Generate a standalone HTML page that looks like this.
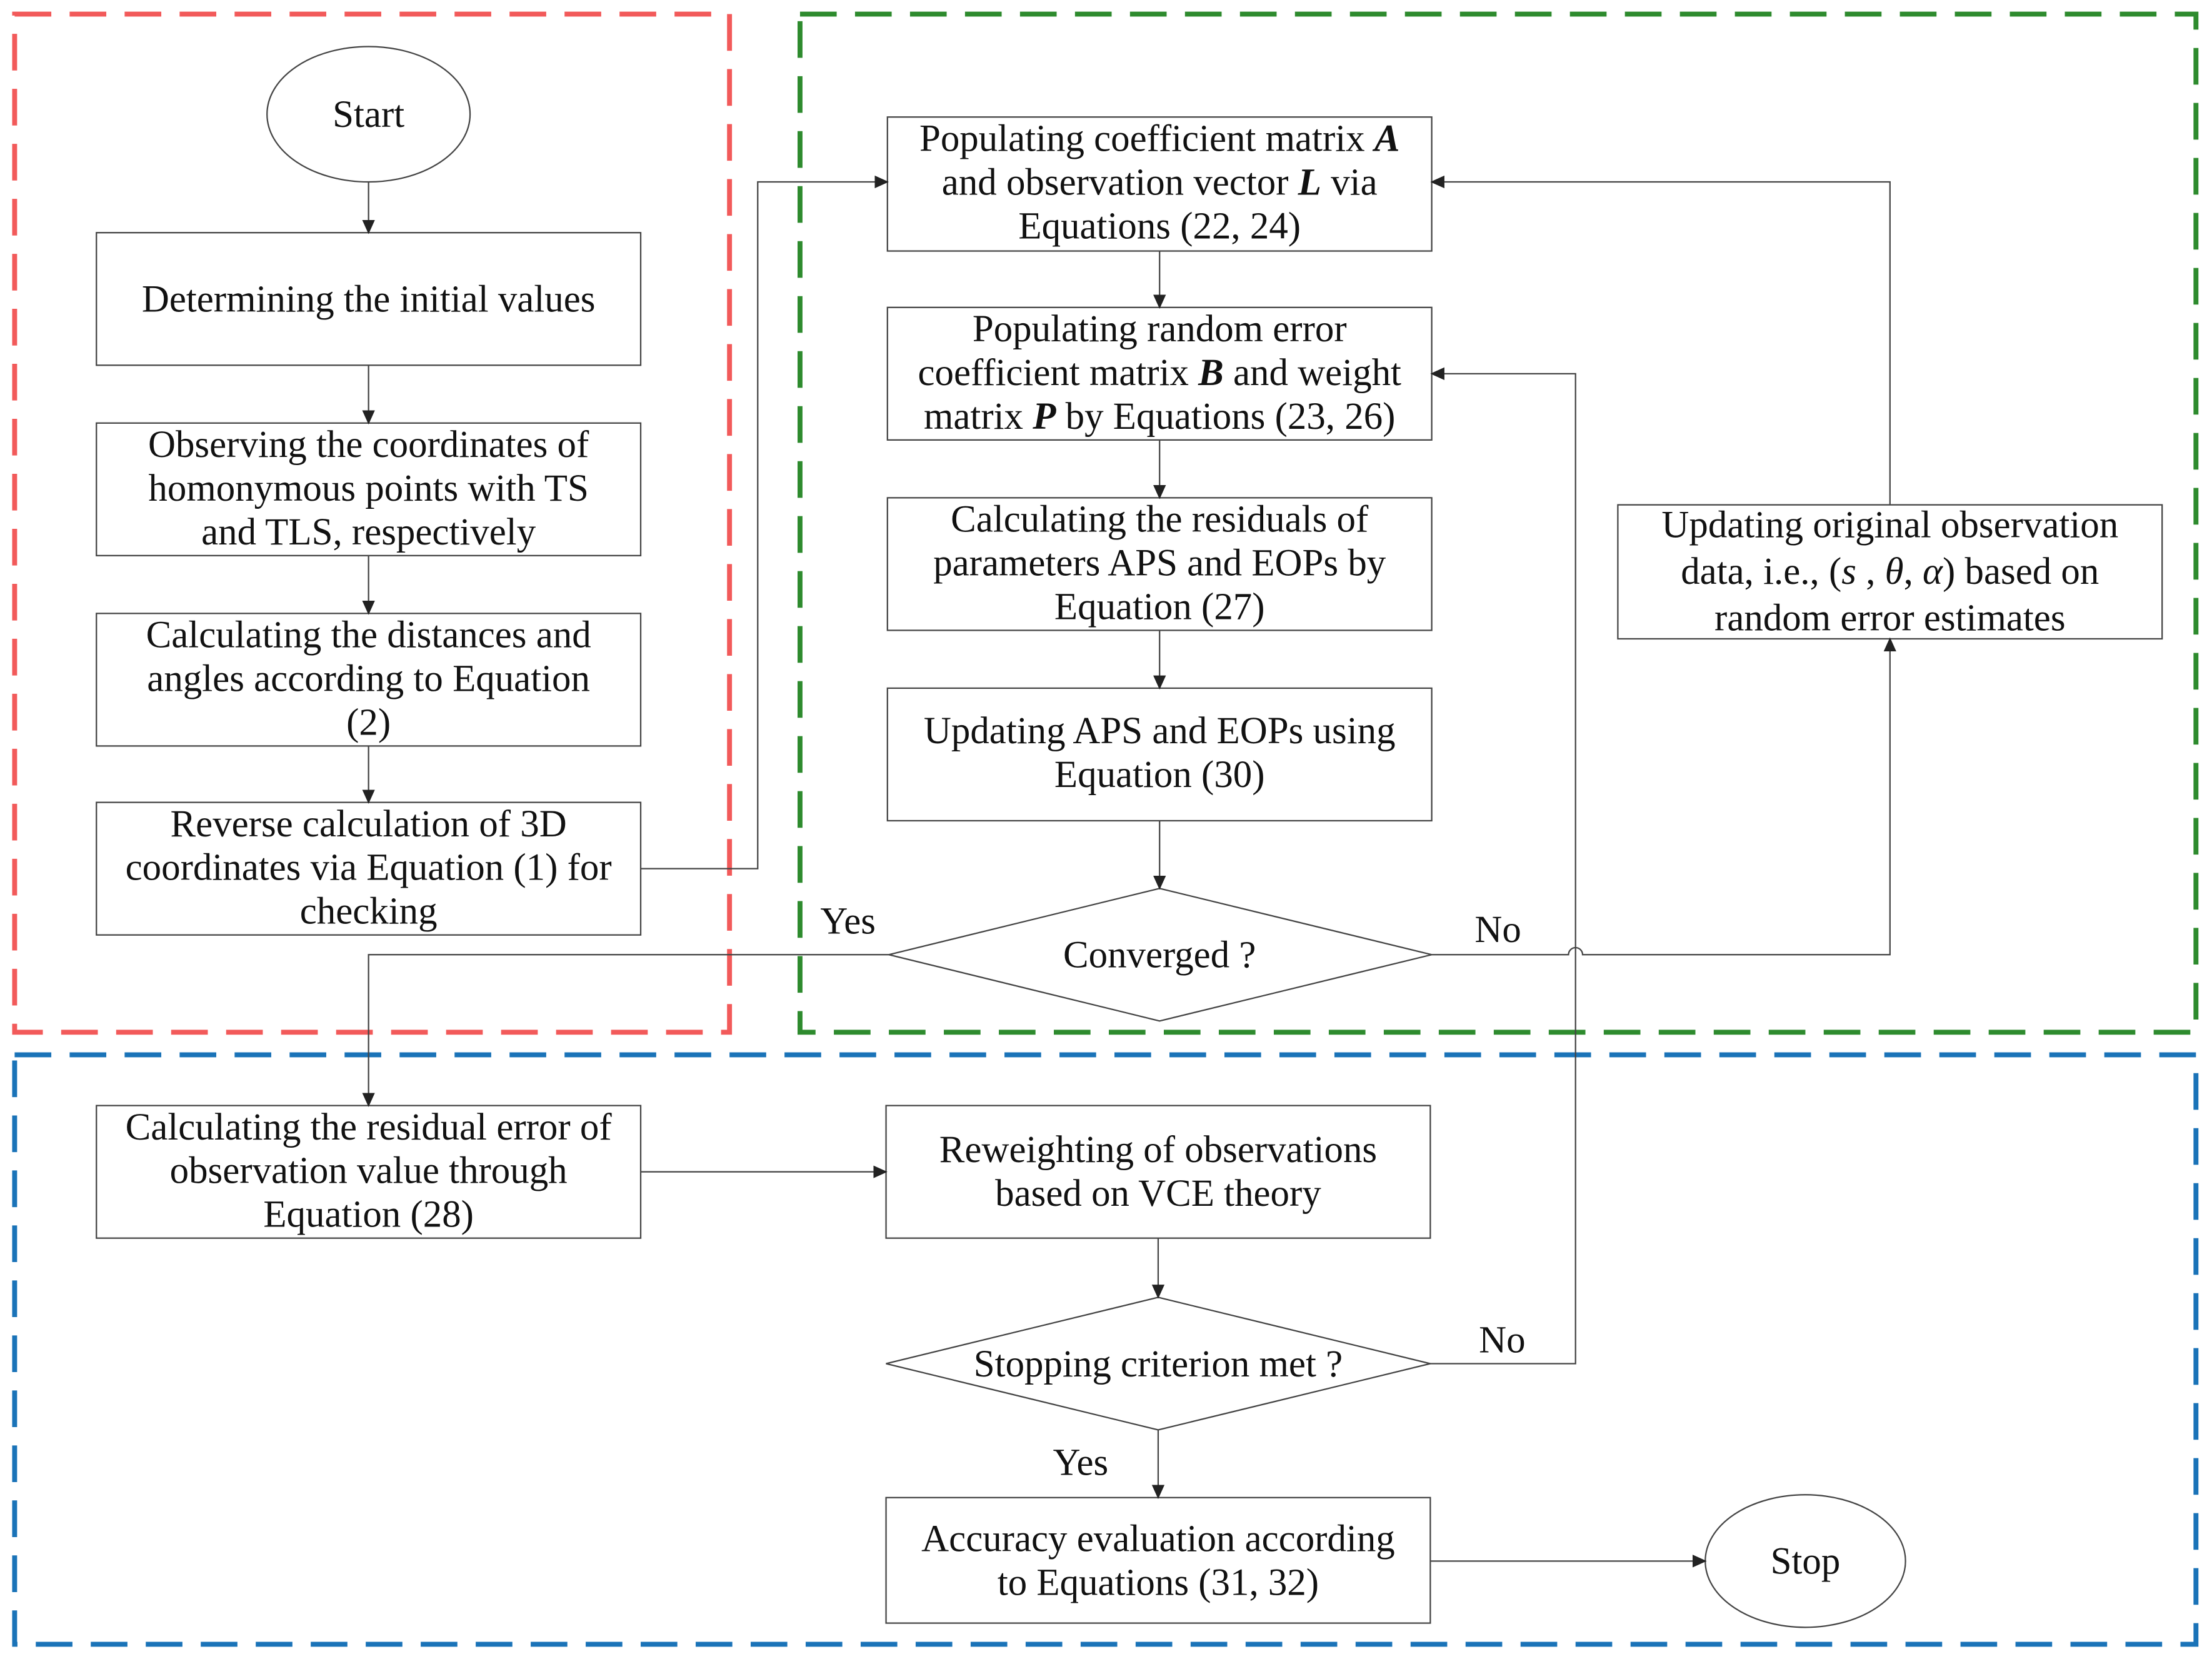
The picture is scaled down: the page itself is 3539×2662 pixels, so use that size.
<!DOCTYPE html>
<html><head><style>html,body{margin:0;padding:0;background:#fff}svg{display:block}</style></head>
<body>
<svg width="3539" height="2662" viewBox="0 0 1568 1180" xmlns="http://www.w3.org/2000/svg" font-family="'Liberation Serif', serif" font-size="27">
<defs><marker id="a" markerWidth="10" markerHeight="10" refX="9" refY="5" orient="auto" markerUnits="userSpaceOnUse"><path d="M0,0.5 L10,5 L0,9.5 z" fill="#222"/></marker></defs>
<g fill="none" stroke-width="3.5" stroke-dasharray="26,13">
<rect x="10" y="10" width="507" height="722" stroke="#f25a5a"/>
<rect x="567" y="10" width="990" height="722" stroke="#2e8b2e"/>
<rect x="10" y="748" width="1547" height="418" stroke="#1a73b8"/>
</g>
<g fill="#fff" stroke="#444" stroke-width="1">
<ellipse cx="261" cy="81" rx="72" ry="48"/>
<rect x="68" y="165" width="386" height="94"/>
<rect x="68" y="300" width="386" height="94"/>
<rect x="68" y="435" width="386" height="94"/>
<rect x="68" y="569" width="386" height="94"/>
<rect x="629" y="83" width="386" height="95"/>
<rect x="629" y="218" width="386" height="94"/>
<rect x="629" y="353" width="386" height="94"/>
<rect x="629" y="488" width="386" height="94"/>
<polygon points="630,677 822,630 1015,677 822,724"/>
<rect x="1147" y="358" width="386" height="95"/>
<rect x="68" y="784" width="386" height="94"/>
<rect x="628" y="784" width="386" height="94"/>
<polygon points="628,967 821,920 1014,967 821,1014"/>
<rect x="628" y="1062" width="386" height="89"/>
<ellipse cx="1280" cy="1107" rx="71" ry="47"/>
</g>
<g fill="none" stroke="#444" stroke-width="1" marker-end="url(#a)">
<path d="M261,129V165"/><path d="M261,259V300"/><path d="M261,394V435"/><path d="M261,529V569"/>
<path d="M454,616H537V129H629"/>
<path d="M822,178V218"/><path d="M822,312V353"/><path d="M822,447V488"/><path d="M822,582V630"/>
<path d="M630,677H261V784"/>
<path d="M1015,677H1112A5,5 0 0 1 1122,677H1340V453"/>
<path d="M1340,358V129H1015"/>
<path d="M1014,967H1117V265H1015"/>
<path d="M821,1014V1062"/><path d="M454,831H628"/><path d="M821,878V920"/><path d="M1014,1107H1209"/>
</g>
<g fill="#111" text-anchor="middle">
<text x="261" y="90">Start</text>
<text x="261" y="221">Determining the initial values</text>
<text x="261" y="324">Observing the coordinates of</text><text x="261" y="355">homonymous points with TS</text><text x="261" y="386">and TLS, respectively</text>
<text x="261" y="459">Calculating the distances and</text><text x="261" y="490">angles according to  Equation</text><text x="261" y="521">(2)</text>
<text x="261" y="593">Reverse calculation of 3D</text><text x="261" y="624">coordinates via Equation (1) for</text><text x="261" y="655">checking</text>
<text x="822" y="107">Populating coefficient matrix <tspan font-weight="bold" font-style="italic">A</tspan></text><text x="822" y="138">and observation vector <tspan font-weight="bold" font-style="italic">L</tspan> via</text><text x="822" y="169">Equations (22, 24)</text>
<text x="822" y="242">Populating random error</text><text x="822" y="273">coefficient matrix <tspan font-weight="bold" font-style="italic">B</tspan> and weight</text><text x="822" y="304">matrix <tspan font-weight="bold" font-style="italic">P</tspan> by Equations (23, 26)</text>
<text x="822" y="377">Calculating the residuals of</text><text x="822" y="408">parameters APS and EOPs by</text><text x="822" y="439">Equation (27)</text>
<text x="822" y="527">Updating APS and EOPs using</text><text x="822" y="558">Equation (30)</text>
<text x="822" y="686">Converged ?</text>
<text x="1340" y="381">Updating original observation</text><text x="1340" y="414">data, i.e., (<tspan font-style="italic">s</tspan> ,  <tspan font-style="italic">θ</tspan>,  <tspan font-style="italic">α</tspan>) based on</text><text x="1340" y="447">random error estimates</text>
<text x="261" y="808">Calculating the residual error of</text><text x="261" y="839">observation value through</text><text x="261" y="870">Equation (28)</text>
<text x="821" y="824">Reweighting of observations</text><text x="821" y="855">based on VCE theory</text>
<text x="821" y="976">Stopping criterion met ?</text>
<text x="821" y="1100">Accuracy evaluation according</text><text x="821" y="1131">to Equations (31, 32)</text>
<text x="1280" y="1116">Stop</text>
<text x="601" y="662">Yes</text><text x="1062" y="668">No</text><text x="1065" y="959">No</text><text x="766" y="1046">Yes</text>
</g>
</svg>
</body></html>
